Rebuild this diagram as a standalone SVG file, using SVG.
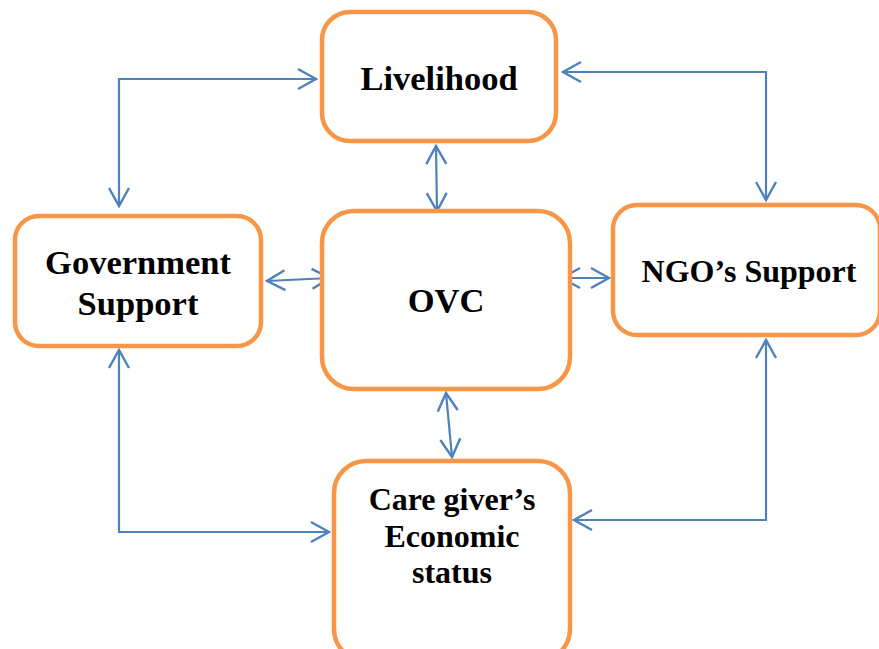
<svg xmlns="http://www.w3.org/2000/svg" width="879" height="649" viewBox="0 0 879 649">
<style>
.box{fill:#fff;stroke:#F79646;stroke-width:4.5}
.lbl{font-family:"Liberation Serif","Times New Roman",serif;font-weight:bold;font-size:34.5px;fill:#000;text-anchor:middle}
.sm{font-size:32px}
.con{fill:none;stroke:#4F81BD;stroke-width:2.2}
</style>
<defs>
<marker id="ah" viewBox="-20 -12 22 24" refX="0" refY="0" markerWidth="22" markerHeight="24" markerUnits="userSpaceOnUse" orient="auto-start-reverse">
<path d="M-18,-10 L0,0 L-18,10" fill="none" stroke="#4F81BD" stroke-width="2.4"/>
</marker>
</defs>
<g id="connectors">
<path class="con" d="M316,79 H119 V206" marker-start="url(#ah)" marker-end="url(#ah)"/>
<path class="con" d="M563,72 H766 V200" marker-start="url(#ah)" marker-end="url(#ah)"/>
<path class="con" d="M436,146 L437,211" marker-start="url(#ah)" marker-end="url(#ah)"/>
<path class="con" d="M267,281 L330,278" marker-start="url(#ah)" marker-end="url(#ah)"/>
<path class="con" d="M562,278 L609,278" marker-start="url(#ah)" marker-end="url(#ah)"/>
<path class="con" d="M446,393 L452,457" marker-start="url(#ah)" marker-end="url(#ah)"/>
<path class="con" d="M119,350 V532 H329" marker-start="url(#ah)" marker-end="url(#ah)"/>
<path class="con" d="M766,340 V520 H574" marker-start="url(#ah)" marker-end="url(#ah)"/>
</g>
<g id="livelihood">
<rect class="box" x="322" y="12" width="234" height="129" rx="28"/>
<text class="lbl" x="439" y="90">Livelihood</text>
</g>
<g id="government">
<rect class="box" x="15" y="216" width="246" height="130" rx="24"/>
<text class="lbl" x="138" y="274">Government</text>
<text class="lbl" x="138" y="315">Support</text>
</g>
<g id="ovc">
<rect class="box" x="322" y="211" width="248" height="178" rx="32"/>
<text class="lbl" x="446" y="312">OVC</text>
</g>
<g id="ngo">
<rect class="box" x="613" y="205" width="267" height="130" rx="24"/>
<text class="lbl sm" x="749" y="282">NGO’s Support</text>
</g>
<g id="caregiver">
<rect class="box" x="334" y="461" width="236" height="200" rx="32"/>
<text class="lbl sm" x="452" y="510">Care giver’s</text>
<text class="lbl sm" x="452" y="547">Economic</text>
<text class="lbl sm" x="452" y="583">status</text>
</g>
</svg>
